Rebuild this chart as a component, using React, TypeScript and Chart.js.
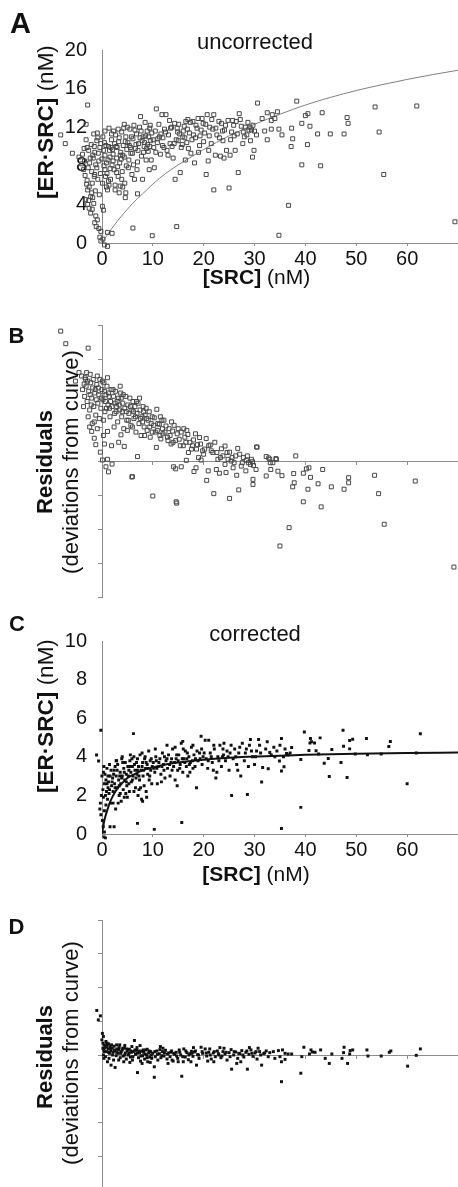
import { useEffect, useRef } from "react";
import { Chart, registerables } from "chart.js";

Chart.register(...registerables);

type Pt = [number, number];

const FONT = "'Liberation Sans', Arial, Helvetica, sans-serif";
const AXIS = "#8c8c8c";
const INK = "#111111";

// ---- tick values ----
const srcTicks = [0, 10, 20, 30, 40, 50, 60];
const uncorrectedTicks = [0, 4, 8, 12, 16, 20];
const correctedTicks = [0, 2, 4, 6, 8, 10];
const residualTicks = [-4, -3, -2, -1, 0, 1, 2, 3, 4];

// ---- panel A: uncorrected [SRC] vs [ER·SRC] ----
const uncorrectedPoints: Pt[] = [
  [-8.1, 11.2], [-7.2, 10.3], [-5.8, 9.3], [-2.8, 14.3], [-3.1, 12.3], [-1.6, 11.3], [-3.1, 10.7], [-0.9, 11.4],
  [-4.5, 8.9], [-4.0, 8.2], [-3.6, 7.6], [-3.3, 7.0], [-2.9, 6.5], [-3.0, 6.1], [-2.5, 5.8], [-2.8, 5.5],
  [-2.2, 4.8], [-3.2, 4.5], [-2.8, 4.0], [-1.8, 4.7], [-2.5, 3.6], [-2.2, 3.1], [-1.2, 2.8], [-1.4, 2.1],
  [-1.1, 1.7], [-0.2, 1.2], [-0.2, 0.2], [0.5, -0.2], [1.1, -0.35], [0.1, 3.8], [0.3, 3.4], [-1.5, 6.9],
  [-2.0, 7.4], [-1.0, 7.8], [-2.4, 8.3], [-1.7, 8.8], [-0.6, 8.5], [-3.8, 9.2], [-2.6, 9.6], [-1.4, 9.4],
  [-0.4, 9.9], [-2.1, 10.2], [-1.0, 10.6], [-0.2, 10.3], [-3.5, 9.8], [-1.9, 6.2], [-0.8, 6.6], [-0.3, 7.2],
  [-1.3, 5.4], [-0.5, 5.0],
  [0.4, 8.0], [0.6, 9.1], [0.8, 10.1], [1.0, 7.2], [1.2, 8.6], [1.4, 11.9], [1.5, 9.6], [1.7, 6.6],
  [1.9, 10.7], [2.0, 8.1], [2.2, 9.2], [2.4, 7.6], [2.5, 10.3], [2.7, 11.2], [2.9, 8.8], [3.0, 9.9],
  [3.2, 6.9], [3.4, 10.9], [3.5, 8.3], [3.7, 9.4], [3.9, 11.5], [4.0, 7.4], [4.2, 10.1], [4.4, 8.9],
  [4.5, 6.2], [4.7, 11.0], [4.9, 9.7], [0.2, 11.0], [0.9, 5.8], [1.6, 8.9], [2.3, 11.6], [3.1, 7.9],
  [3.6, 5.9], [4.1, 9.1], [4.8, 8.0], [0.7, 6.9], [1.8, 9.9], [2.6, 6.0], [3.3, 10.5], [4.3, 11.9],
  [1.1, 1.1], [2.0, 1.0], [1.4, 6.0], [1.1, 5.5], [2.6, 5.5], [3.4, 5.2], [4.1, 5.8], [4.6, 4.7], [4.7, 5.2],
  [5.1, 10.4], [5.3, 8.6], [5.5, 11.8], [5.7, 9.3], [5.9, 7.1], [6.1, 10.8], [6.3, 12.2], [6.4, 6.6],
  [6.6, 9.8], [6.8, 11.3], [7.0, 8.4], [7.2, 10.3], [7.4, 12.0], [7.6, 13.1], [7.8, 9.0], [8.0, 6.6],
  [8.1, 11.0], [8.3, 10.0], [8.5, 12.5], [8.7, 8.6], [8.9, 11.6], [9.1, 9.5], [9.3, 7.6], [9.5, 12.2],
  [9.6, 10.6], [9.8, 11.4], [5.6, 9.9], [6.9, 7.6], [7.5, 10.9], [8.2, 9.4], [9.0, 10.2], [6.1, 1.55],
  [7.0, 5.1], [5.2, 7.8], [9.9, 0.76], [9.4, 11.9], [7.9, 10.6],
  [10.2, 9.9], [10.3, 7.8], [10.5, 11.6], [10.7, 13.9], [10.9, 10.4], [11.2, 12.3], [11.5, 9.2], [11.8, 13.3],
  [12.0, 10.9], [12.3, 11.8], [12.6, 13.3], [12.8, 9.6], [13.1, 11.2], [13.4, 10.3], [13.7, 12.0], [14.0, 8.8],
  [14.3, 12.4], [14.4, 6.6], [14.6, 10.7], [14.7, 1.7], [14.9, 11.5], [15.1, 12.3], [15.4, 7.3], [15.6, 9.9],
  [15.9, 11.0], [16.2, 12.1], [16.4, 8.6], [16.7, 10.4], [16.9, 12.8], [17.2, 11.4], [17.5, 9.3], [17.9, 12.6],
  [18.2, 8.3], [18.4, 10.9], [18.7, 11.9], [18.9, 12.9], [19.2, 10.1], [19.5, 11.7], [19.9, 12.4], [11.0, 10.8],
  [12.2, 9.9], [13.3, 12.7], [15.0, 10.6], [16.0, 11.6], [17.0, 9.8], [18.0, 11.2], [19.0, 9.4], [11.6, 11.3],
  [13.8, 10.0], [16.5, 12.6],
  [20.2, 11.4], [20.5, 7.1], [20.7, 13.3], [20.9, 8.5], [21.2, 12.0], [21.5, 10.3], [21.8, 11.8], [22.0, 13.3],
  [22.0, 5.5], [22.3, 9.1], [22.6, 11.2], [23.0, 12.6], [23.3, 9.0], [23.5, 12.4], [23.8, 10.6], [24.1, 11.7],
  [24.5, 9.6], [24.8, 12.7], [25.0, 5.7], [25.2, 9.1], [25.5, 11.5], [25.9, 12.2], [26.2, 9.6], [26.4, 12.6],
  [26.8, 7.3], [27.0, 13.4], [27.4, 12.1], [27.8, 11.5], [28.2, 12.0], [28.5, 11.2], [28.9, 11.7], [29.2, 10.6],
  [29.4, 11.7], [29.6, 8.9], [29.7, 12.2], [29.9, 9.6], [20.0, 10.5], [21.0, 9.6], [24.0, 8.8], [26.0, 11.1],
  [27.7, 10.3],
  [30.0, 11.6], [30.4, 11.2], [30.6, 14.5], [32.5, 13.5], [33.5, 13.3], [33.3, 12.7], [34.0, 12.9], [34.5, 13.6],
  [32.5, 10.7], [33.3, 11.8], [34.8, 11.8], [35.4, 11.2], [37.3, 11.9], [37.5, 10.8], [37.2, 10.0], [38.3, 14.7],
  [39.3, 12.4], [40.0, 13.2], [40.5, 13.4], [40.9, 12.1], [40.4, 10.2], [39.3, 8.1], [42.4, 11.3], [43.3, 13.5],
  [43.0, 8.0], [44.9, 11.3], [47.6, 11.3], [48.2, 13.0], [48.4, 12.4], [53.7, 14.1], [54.5, 11.5], [55.4, 7.1],
  [61.9, 14.2], [36.7, 3.9], [34.8, 0.8], [69.4, 2.2], [31.5, 12.9], [32.0, 11.6],
  [-1.8, 9.1], [-0.7, 9.3], [0.3, 9.6], [0.5, 10.4], [1.3, 10.0], [1.6, 7.7], [2.1, 9.7], [2.8, 10.0],
  [3.8, 8.7], [4.6, 10.5], [-2.3, 8.8], [-1.2, 8.1], [0.0, 8.7], [0.9, 8.3], [2.2, 8.5], [3.6, 9.1],
  [5.4, 10.1], [6.0, 9.3], [6.5, 11.7], [7.1, 9.6], [7.7, 11.6], [8.4, 10.4], [8.8, 9.8], [9.2, 11.0],
  [9.7, 8.6], [10.1, 10.7], [10.6, 9.4], [11.3, 11.0], [11.9, 10.1], [12.5, 11.5], [13.0, 9.1], [13.5, 11.9],
  [14.2, 10.3], [14.8, 11.9], [15.3, 11.3], [15.8, 10.2], [16.3, 10.9], [16.8, 11.8], [17.4, 12.5], [17.7, 10.7],
  [18.5, 12.2], [19.3, 11.1], [19.7, 12.9], [20.4, 12.3], [21.1, 11.1], [21.6, 12.8], [22.4, 11.9], [23.1, 10.9],
  [23.7, 11.6], [24.3, 12.2], [25.3, 10.7], [25.7, 12.7], [26.6, 11.3], [27.2, 12.8], [28.0, 11.0], [28.7, 12.5],
  [29.1, 12.0], [-3.4, 8.5], [-2.9, 9.9], [-1.5, 10.0], [-0.8, 10.9], [0.6, 11.6], [1.9, 11.3], [3.2, 11.8],
  [4.4, 12.3], [5.0, 12.0], [5.8, 11.0], [6.2, 8.1], [6.7, 10.2], [8.6, 11.1], [9.4, 10.0], [-2.0, 5.2],
  [-1.6, 4.1], [-2.6, 4.4], [-1.9, 3.5], [-0.9, 2.4], [-0.6, 1.5], [-0.4, 0.6], [0.2, 0.4], [-1.4, 7.1],
  [-2.7, 7.8], [0.1, 6.2], [0.6, 7.6], [1.3, 6.4], [2.9, 7.3], [3.9, 6.6],
];

const uncorrectedFit: Pt[] = [
  [0, 0], [1, 0.8], [2, 1.55], [3, 2.25], [4, 2.9], [5, 3.5], [6, 4.1], [8, 5.1], [10, 6.1], [12.5, 7.2],
  [15, 8.1], [17.5, 8.9], [20, 9.7], [25, 11.1], [30, 12.3], [35, 13.35], [40, 14.3], [45, 15.1], [50, 15.8],
  [55, 16.4], [60, 16.95], [65, 17.45], [70, 17.9],
];

// ---- panel B: residuals of uncorrected fit ----
const uncorrectedResiduals: Pt[] = [
  [-8.1, 3.82], [-7.1, 3.45], [-2.7, 3.32], [-4.5, 2.6], [-4.0, 2.5], [-3.2, 2.4], [-3.5, 2.26], [-5.2, 2.35],
  [-3.0, 2.6], [-2.3, 2.55],
  [-3.8, 2.1], [-3.4, 1.9], [-3.1, 2.2], [-2.9, 1.75], [-2.6, 2.05], [-2.4, 1.5], [-2.2, 2.3], [-2.0, 1.85],
  [-1.8, 2.15], [-1.6, 1.6], [-1.4, 2.0], [-1.2, 1.35], [-1.0, 2.25], [-0.8, 1.7], [-0.6, 1.95], [-0.4, 2.4],
  [-0.2, 1.55], [0.0, 2.1], [0.2, 1.8], [0.4, 2.3], [0.6, 1.45], [0.8, 1.95], [1.0, 2.2], [1.2, 1.65],
  [1.4, 1.9], [1.6, 1.3], [1.8, 2.1], [2.0, 1.6], [-3.6, 1.6], [-2.7, 1.3], [-1.5, 1.15], [-0.9, 2.5],
  [0.3, 1.2], [1.1, 2.45], [-2.3, 1.95], [-1.1, 1.8], [0.1, 2.35], [1.5, 1.55], [-0.5, 1.25], [0.7, 1.75],
  [-2.0, 0.87], [-1.5, 0.67], [-1.2, 0.48], [-0.3, 0.26], [0.3, 0.75], [1.1, 0.87], [0.1, 0.03], [1.1, 0.05],
  [0.8, -0.17], [1.3, -0.32], [2.0, -0.09], [-2.4, 1.0], [-1.9, 1.1],
  [2.3, 1.9], [2.5, 1.4], [2.7, 2.05], [2.9, 1.6], [3.1, 1.15], [3.3, 1.85], [3.5, 1.5], [3.7, 2.0],
  [3.9, 1.3], [4.1, 1.7], [4.3, 0.95], [4.5, 1.55], [4.7, 1.9], [4.9, 1.2], [5.1, 1.65], [5.3, 1.4],
  [5.5, 1.85], [5.7, 1.05], [5.9, 1.5], [6.1, 1.75], [6.3, 1.25], [6.5, 1.6], [6.7, 0.85], [6.9, 1.4],
  [7.1, 1.7], [7.3, 1.1], [7.5, 1.5], [7.7, 0.75], [7.9, 1.3], [8.1, 1.6], [8.3, 1.0], [8.5, 1.35],
  [8.7, 1.55], [8.9, 0.9], [9.1, 1.2], [9.3, 1.45], [9.5, 0.7], [9.7, 1.1], [9.9, 1.3], [3.75, 0.77],
  [4.4, 0.43], [7.0, 0.13], [5.9, -0.47], [6.0, -0.46], [3.0, 1.75], [4.0, 1.45], [6.0, 1.0], [8.0, 1.15],
  [5.0, 0.9], [7.4, 1.85], [3.6, 2.2],
  [10.3, 1.27], [10.8, 1.52], [10.0, -1.03], [10.5, 0.85], [11.0, 1.1], [11.3, 1.08], [11.6, 0.65], [11.9, 0.95],
  [12.2, 1.2], [12.6, 1.03], [12.9, 0.7], [13.2, 0.95], [13.6, 0.5], [13.9, 0.88], [14.2, 1.05], [14.5, 0.6],
  [14.1, -0.17], [14.5, -0.23], [14.6, -1.2], [14.7, -1.24], [15.2, 0.64], [15.6, -0.17], [15.6, 0.85], [16.0, 0.45],
  [16.3, 0.7], [16.6, 0.02], [16.9, 0.78], [17.3, 0.55], [17.6, 0.35], [18.0, 0.62], [18.1, -0.31], [18.5, -0.2],
  [18.8, 0.48], [19.2, 0.69], [19.5, 0.03], [19.8, 0.3], [12.0, 0.8], [13.0, 0.6], [15.0, 0.95], [17.0, 0.25],
  [10.7, 0.4], [11.5, 1.3], [16.1, 0.95], [18.4, 0.8],
  [20.5, 0.66], [20.6, -0.57], [20.9, -0.29], [21.0, 0.45], [21.3, 0.47], [21.8, 0.25], [22.0, -0.96], [22.2, 0.55],
  [22.5, -0.25], [23.1, -0.36], [23.5, 0.36], [23.8, 0.15], [24.2, 0.44], [24.2, -0.1], [24.4, -0.34], [24.8, 0.05],
  [25.1, 0.26], [25.1, -1.1], [25.6, 0.1], [26.0, -0.05], [26.5, -0.42], [26.7, 0.37], [26.9, -0.85], [27.1, 0.2],
  [27.4, -0.15], [27.8, 0.1], [28.3, -0.29], [28.4, 0.02], [28.8, -0.05], [29.2, -0.1], [29.6, -0.02], [29.7, -0.54],
  [29.7, -0.69], [29.8, -0.13], [30.3, -0.25], [30.4, 0.41], [30.5, 0.41], [20.0, 0.2], [22.8, 0.05], [25.8, -0.2],
  [32.3, 0.13], [32.8, 0.09], [33.1, -0.05], [33.6, -0.05], [34.3, 0.05], [34.2, 0.07], [32.3, -0.44], [33.2, -0.25],
  [34.6, -0.3], [35.4, -0.43], [38.1, 0.15], [37.7, -0.37], [37.8, -0.64], [37.5, -0.76], [39.6, -0.36], [40.2, -0.23],
  [40.7, -0.2], [41.0, -0.48], [40.5, -0.83], [39.6, -1.2], [42.5, -0.67], [43.4, -0.25], [43.1, -1.35], [45.1, -0.76],
  [47.6, -0.83], [48.5, -0.49], [48.5, -0.64], [53.6, -0.42], [54.4, -0.96], [55.5, -1.86], [61.6, -0.59], [36.8, -1.96],
  [35.0, -2.5], [69.2, -3.12], [33.0, 0.05],
  [-2.8, 2.35], [-2.1, 1.65], [-1.3, 2.1], [-0.7, 2.15], [0.5, 2.05], [0.9, 1.55], [1.7, 1.75], [2.2, 2.1],
  [2.8, 1.45], [3.4, 1.65], [4.2, 1.95], [4.8, 1.45], [5.6, 1.6], [6.2, 1.45], [6.8, 1.75], [7.6, 1.25],
  [8.2, 1.45], [8.8, 1.25], [9.4, 1.0], [9.9, 0.85], [10.2, 1.05], [10.9, 0.9], [11.4, 0.75], [12.4, 0.85],
  [13.4, 0.75], [14.0, 0.55], [14.8, 0.8], [15.4, 0.45], [16.5, 0.55], [17.8, 0.45], [18.6, 0.35], [19.4, 0.5],
  [20.2, 0.35], [21.5, 0.3], [22.6, 0.25], [23.3, 0.1], [24.6, 0.25], [25.4, 0.0], [26.3, 0.15], [27.6, -0.05],
  [28.6, 0.15], [29.4, 0.05], [-3.3, 2.45], [-1.7, 2.4], [-0.1, 1.85], [1.3, 2.0], [2.6, 1.7], [3.8, 1.85],
  [5.2, 1.2], [6.6, 1.3], [8.4, 0.75], [11.8, 1.2], [13.7, 1.15], [16.7, 0.9], [19.0, 0.1], [2.4, 1.0],
  [1.9, 0.45], [-0.9, 0.95], [0.5, 0.5], [3.3, 0.55],
];

// ---- panel C: corrected ----
const correctedPoints: Pt[] = [
  [-0.2, 5.38], [-1.05, 4.09], [-0.65, 3.78], [-0.3, 1.6], [-0.4, 1.3], [-0.2, 1.0], [0.26, 0.38], [0.5, 0.1],
  [0.4, -0.15], [0.7, -0.2], [1.6, 0.38], [2.4, 0.38], [7.0, 0.55], [10.3, 0.24], [15.7, 0.6], [0.1, 0.7],
  [-0.1, 2.0], [0.2, 2.3], [0.3, 1.9], [0.5, 2.6], [0.6, 3.1], [0.8, 1.5], [0.9, 2.2], [1.0, 3.4],
  [1.1, 1.8], [1.3, 2.7], [1.4, 2.1], [1.6, 3.0], [1.7, 1.6], [1.9, 2.5], [0.4, 3.5], [0.0, 3.0],
  [1.2, 2.4], [1.8, 3.3], [0.7, 2.0],
  [2.1, 2.9], [2.2, 2.2], [2.4, 3.3], [2.5, 2.6], [2.7, 1.3], [2.8, 3.0], [3.0, 2.4], [3.1, 3.6],
  [3.3, 2.8], [3.4, 2.0], [3.6, 3.2], [3.7, 2.6], [3.9, 3.9], [4.0, 3.0], [4.2, 2.3], [4.3, 3.4],
  [4.5, 2.8], [4.6, 3.7], [4.8, 3.1], [4.9, 2.5], [5.1, 3.5], [5.2, 3.0], [5.4, 2.2], [5.5, 3.8],
  [5.7, 3.2], [5.8, 2.7], [6.0, 3.5], [6.1, 3.0], [6.2, 5.2], [6.3, 4.0], [6.5, 3.3], [6.6, 2.4],
  [6.8, 3.7], [6.9, 3.1], [7.1, 2.0], [7.2, 3.5], [7.4, 2.8], [7.5, 4.1], [7.7, 3.3], [7.8, 1.8],
  [8.0, 3.7], [8.1, 3.0], [8.3, 2.5], [8.4, 3.9], [8.6, 3.4], [8.7, 2.2], [8.9, 3.6], [9.0, 3.1],
  [9.2, 4.3], [9.3, 2.8], [9.5, 3.8], [9.6, 3.3], [9.8, 2.6], [9.9, 3.5], [2.6, 3.5], [3.2, 1.6],
  [4.1, 3.7], [5.0, 1.9], [5.9, 3.9], [6.7, 2.9], [7.6, 2.4], [8.5, 4.0], [9.4, 3.0], [2.9, 3.8],
  [3.8, 1.7], [4.7, 2.1], [7.0, 3.9], [8.8, 1.9], [3.5, 3.0], [5.3, 3.3],
  [10.1, 3.7], [10.4, 3.2], [10.6, 4.0], [10.9, 2.6], [11.1, 3.5], [11.4, 3.9], [11.6, 3.1], [11.9, 4.2],
  [12.1, 3.6], [12.4, 2.9], [12.6, 3.8], [12.9, 3.4], [13.1, 4.1], [13.4, 3.0], [13.6, 3.7], [13.9, 4.4],
  [14.1, 3.5], [14.4, 2.8], [14.6, 3.9], [14.9, 3.3], [15.1, 4.1], [15.4, 3.6], [15.6, 4.7], [15.9, 3.2],
  [16.1, 3.9], [16.4, 4.3], [16.6, 3.5], [16.9, 3.0], [17.1, 4.0], [17.4, 3.7], [17.6, 4.5], [17.9, 3.4],
  [18.1, 4.1], [18.6, 2.4], [18.9, 3.8], [19.2, 4.2], [19.5, 5.07], [19.7, 3.6], [15.9, 4.8], [10.8, 3.4],
  [12.3, 4.0], [13.8, 3.3], [15.0, 3.8], [16.8, 4.2], [18.4, 3.9], [11.7, 2.7], [14.8, 2.5], [17.3, 3.2],
  [19.9, 4.0],
  [20.3, 4.86], [21.0, 4.86], [20.5, 3.9], [20.8, 3.4], [21.3, 4.2], [21.7, 3.7], [22.1, 4.4], [22.4, 2.9],
  [22.8, 4.0], [23.2, 4.6], [23.5, 3.5], [23.9, 4.1], [24.3, 3.8], [24.6, 4.3], [25.0, 3.3], [25.5, 2.0],
  [25.4, 4.6], [25.8, 3.9], [26.1, 4.4], [26.5, 3.6], [26.9, 4.2], [27.3, 3.0], [27.6, 4.7], [28.0, 3.8],
  [28.6, 2.05], [28.4, 4.4], [28.8, 3.5], [29.2, 4.9], [29.6, 4.0], [30.0, 3.6], [30.4, 4.3], [30.8, 4.9],
  [22.6, 3.2], [24.0, 4.7], [26.7, 3.3], [29.0, 4.6], [21.9, 3.3], [23.7, 4.0],
  [31.0, 4.6], [31.4, 2.69], [31.6, 3.45], [32.5, 4.78], [32.7, 3.38], [33.0, 4.22], [34.0, 4.0], [34.9, 3.78],
  [35.0, 4.6], [35.3, 4.95], [35.3, 3.26], [35.3, 0.29], [35.7, 4.0], [35.8, 3.48], [36.3, 4.17], [37.0, 4.2],
  [37.3, 4.48], [39.1, 3.86], [39.1, 1.38], [39.8, 5.29], [40.7, 4.33], [40.9, 4.72], [41.0, 4.95], [41.2, 4.78],
  [41.8, 4.72], [42.1, 4.31], [42.6, 4.14], [42.9, 4.98], [43.7, 3.67], [44.5, 3.91], [44.7, 2.98], [45.2, 4.38],
  [47.0, 3.7], [47.4, 5.38], [47.5, 4.55], [48.2, 2.93], [48.7, 4.84], [48.7, 4.41], [49.3, 4.91], [49.8, 4.14],
  [52.0, 4.95], [52.2, 4.1], [54.9, 4.14], [56.4, 4.53], [56.7, 4.79], [60.0, 2.6], [61.8, 4.2], [62.6, 5.19],
  [33.8, 4.5], [36.0, 4.4],
  [0.5, 1.2], [0.8, 2.8], [1.2, 3.0], [1.5, 2.3], [2.0, 2.7], [2.3, 3.1], [2.6, 2.4], [3.0, 3.3],
  [3.4, 2.5], [3.9, 2.9], [4.4, 3.2], [4.8, 2.7], [5.3, 2.6], [5.6, 3.5], [6.0, 2.8], [6.4, 3.6],
  [7.0, 3.3], [7.3, 3.0], [7.9, 3.5], [8.2, 3.3], [8.7, 3.7], [9.1, 3.4], [9.7, 3.9], [10.2, 3.4],
  [10.7, 3.8], [11.2, 3.7], [11.8, 3.5], [12.2, 3.3], [12.8, 3.9], [13.3, 3.6], [13.7, 3.9], [14.3, 3.7],
  [14.7, 4.1], [15.3, 3.4], [15.8, 3.9], [16.3, 3.7], [16.7, 3.9], [17.2, 3.6], [17.8, 3.8], [18.3, 3.5],
  [18.7, 4.3], [19.3, 3.9], [19.6, 4.4], [20.1, 4.2], [20.9, 3.8], [21.5, 4.0], [22.0, 4.6], [23.0, 3.8],
  [23.8, 4.4], [24.8, 4.0], [25.2, 4.2], [26.3, 4.0], [27.1, 4.5], [28.2, 4.2], [29.4, 4.3], [30.2, 4.0],
  [31.2, 4.2], [32.2, 4.4], [33.3, 4.1], [34.4, 4.3], [36.6, 4.1], [1.0, 2.6], [2.2, 1.6], [3.6, 2.1],
  [4.4, 1.9], [6.3, 2.2], [7.3, 2.3], [8.0, 1.7], [0.3, 3.2], [1.5, 3.6], [2.8, 3.8], [4.0, 4.0],
  [5.6, 4.1], [7.9, 4.2], [10.5, 4.4], [12.8, 4.6], [14.4, 4.5], [16.0, 4.4], [17.9, 4.6],
];

const correctedFit: Pt[] = [
  [0, 0], [0.25, 0.4], [0.5, 0.75], [1, 1.2], [1.5, 1.6], [2, 1.9], [3, 2.35], [4, 2.65], [5, 2.9], [6, 3.05],
  [8, 3.3], [10, 3.45], [12.5, 3.6], [15, 3.7], [20, 3.85], [25, 3.95], [30, 4.02], [35, 4.06], [40, 4.1],
  [50, 4.16], [60, 4.2], [70, 4.22],
];

// ---- panel D: residuals of corrected fit ----
const correctedResiduals: Pt[] = [
  [-1.0, 1.32], [-0.3, 1.16], [-0.7, 1.04], [0.1, 0.64], [0.0, 0.45], [0.3, 0.55], [0.2, 0.35], [0.5, 0.3],
  [0.4, 0.15], [0.6, 0.22], [0.8, 0.4], [0.9, 0.1], [1.0, 0.28], [1.2, 0.18], [1.3, 0.33], [1.5, 0.05],
  [1.6, 0.25], [1.8, 0.12], [1.9, 0.3], [0.3, 0.0], [0.7, -0.05], [1.1, -0.2], [1.8, -0.3], [2.6, -0.37],
  [1.4, -0.1],
  [2.0, 0.2], [2.2, 0.08], [2.4, 0.26], [2.6, 0.12], [2.8, -0.02], [3.0, 0.18], [3.2, 0.05], [3.4, 0.22],
  [3.6, -0.08], [3.8, 0.1], [4.0, 0.15], [4.2, -0.03], [4.4, 0.2], [4.6, 0.06], [4.8, -0.12], [5.0, 0.12],
  [5.2, 0.0], [5.4, 0.17], [5.6, -0.06], [5.8, 0.08], [6.0, -0.15], [6.2, 0.1], [6.4, 0.43], [6.6, 0.02],
  [6.8, 0.14], [7.0, -0.52], [7.2, -0.08], [7.4, 0.06], [7.6, -0.18], [7.8, 0.11], [8.0, -0.02], [8.2, 0.08],
  [8.4, -0.12], [8.6, 0.15], [8.8, 0.0], [9.0, -0.2], [9.2, 0.06], [9.4, -0.06], [9.6, 0.1], [9.8, -0.1],
  [3.3, -0.15], [5.5, -0.22], [7.9, -0.25], [2.9, 0.3], [4.5, 0.28], [6.9, 0.22], [8.9, 0.17],
  [10.0, 0.05], [10.3, -0.66], [10.3, -0.35], [10.5, -0.05], [10.8, 0.12], [11.0, -0.15], [11.3, 0.04], [11.6, -0.08],
  [11.9, 0.1], [12.2, -0.03], [12.5, 0.14], [12.8, -0.12], [13.1, 0.06], [13.4, -0.05], [13.7, 0.12], [14.0, -0.18],
  [14.3, 0.02], [14.6, 0.08], [14.9, -0.1], [15.2, 0.15], [15.5, 0.0], [15.7, -0.63], [16.1, 0.18], [16.4, -0.06],
  [16.7, 0.07], [17.0, -0.14], [17.3, 0.04], [17.6, 0.11], [17.9, -0.04], [18.2, 0.09], [18.6, -0.3], [18.8, 0.01],
  [19.1, -0.1], [19.5, 0.23], [19.8, 0.05], [12.0, 0.2], [15.0, -0.2], [17.5, -0.2], [13.0, -0.25],
  [20.3, 0.18], [20.6, -0.03], [21.0, 0.08], [21.2, 0.18], [21.5, -0.12], [21.9, 0.06], [22.3, -0.05], [22.7, 0.12],
  [23.0, 0.0], [23.4, -0.08], [23.8, 0.1], [24.2, 0.03], [24.6, -0.15], [25.0, 0.07], [25.5, -0.42], [25.4, 0.16],
  [25.9, 0.0], [26.3, 0.09], [26.7, -0.1], [27.1, 0.04], [27.5, 0.13], [27.9, -0.06], [28.3, 0.08], [28.6, -0.42],
  [28.9, 0.02], [29.3, 0.15], [29.7, -0.04], [30.1, 0.06], [30.5, -0.12], [31.0, 0.1], [31.4, -0.3], [31.8, 0.04],
  [32.3, 0.12], [32.7, -0.05], [24.0, 0.2], [26.5, -0.25], [29.0, 0.22], [22.0, -0.2],
  [33.0, 0.07], [33.7, 0.1], [34.7, 0.13], [35.5, 0.15], [36.0, 0.05], [36.6, 0.03], [37.3, 0.03], [35.0, -0.05],
  [35.3, -0.2], [36.0, -0.13], [39.3, -0.05], [35.3, -0.79], [39.1, -0.54], [39.7, 0.23], [41.1, 0.15], [41.4, 0.09],
  [41.9, 0.08], [40.8, 0.03], [43.0, 0.15], [43.9, -0.1], [44.7, -0.25], [45.2, 0.03], [47.2, -0.1], [47.5, 0.07],
  [47.6, 0.23], [48.3, -0.25], [48.7, 0.03], [48.8, 0.13], [49.3, 0.15], [52.1, 0.15], [52.3, -0.03], [54.9, -0.03],
  [56.5, 0.08], [56.8, 0.12], [60.1, -0.33], [61.8, -0.01], [62.6, 0.18], [34.0, -0.1],
  [0.2, 0.2], [0.5, 0.1], [0.9, 0.25], [1.3, 0.08], [1.7, 0.18], [2.1, 0.0], [2.5, 0.15], [2.9, 0.08],
  [3.3, 0.15], [3.7, 0.05], [4.1, 0.2], [4.5, 0.0], [4.9, 0.18], [5.3, 0.05], [5.7, 0.12], [6.1, -0.05],
  [6.5, 0.15], [6.9, 0.05], [7.3, 0.12], [7.7, -0.03], [8.1, 0.15], [8.5, 0.03], [8.9, -0.08], [9.3, 0.12],
  [9.7, 0.0], [10.4, 0.1], [10.9, 0.02], [11.4, 0.16], [11.8, -0.02], [12.3, 0.06], [12.9, 0.03], [13.5, 0.08],
  [14.1, 0.05], [14.7, -0.03], [15.3, 0.08], [15.9, -0.05], [16.5, 0.12], [17.1, 0.0], [17.7, 0.05], [18.4, 0.12],
  [19.0, 0.0], [19.7, 0.1], [20.5, 0.06], [21.3, 0.0], [22.1, 0.1], [22.9, 0.04], [23.6, -0.03], [24.4, 0.08],
  [25.2, -0.05], [26.0, 0.1], [26.9, 0.05], [27.7, 0.0], [28.5, 0.12], [29.5, 0.05], [30.3, 0.1], [31.2, 0.0],
  [32.0, 0.06], [0.4, -0.1], [1.0, 0.35], [2.3, -0.15], [3.5, 0.3], [4.3, -0.2], [5.9, 0.25], [7.5, 0.28],
  [9.5, -0.22], [11.5, 0.25], [13.8, -0.15], [16.0, -0.2], [18.0, 0.22], [20.8, -0.18], [23.2, 0.22], [27.3, -0.2],
  [30.7, 0.2],
];

// ---- helpers ----
const toXY = (pts: Pt[]) => pts.map(([x, y]) => ({ x, y }));
const tickFont = { family: FONT, size: 20 };

const W = 458;
const X0_PX = 102; // pixel where [SRC] = 0
const X70_PX = 459; // pixel where [SRC] = 70
const X_MAX = 70;
const X_OVERLAY_MIN = -9; // overlay frame also shows points left of the y axis

type Geo = { canvasH: number; top: number; bottom: number; yMin: number; yMax: number };
const geoA: Geo = { canvasH: 300, top: 50, bottom: 243, yMin: 0, yMax: 20 };
const geoB: Geo = { canvasH: 300, top: 25, bottom: 297, yMin: -4, yMax: 4 };
const geoC: Geo = { canvasH: 300, top: 41, bottom: 234, yMin: 0, yMax: 10 };
const geoD: Geo = { canvasH: 290, top: 20, bottom: 290, yMin: -4, yMax: 4 };

function baseOptions(padding: any) {
  return {
    responsive: false,
    animation: false as const,
    events: [] as any[],
    devicePixelRatio: 1,
    layout: { padding, autoPadding: false },
    plugins: { legend: { display: false }, tooltip: { enabled: false }, title: { display: false } },
  };
}

function srcAxis(height: number) {
  return {
    type: "linear",
    min: 0,
    max: X_MAX,
    afterBuildTicks: (s: any) => {
      s.ticks = srcTicks.map((value) => ({ value }));
    },
    afterFit: (s: any) => {
      s.height = height;
    },
    ticks: { font: tickFont, color: INK, padding: 1, autoSkip: false, maxRotation: 0, minRotation: 0 },
    grid: { drawOnChartArea: false, drawTicks: true, tickLength: 3, color: AXIS, lineWidth: 1 },
    border: { display: true, color: AXIS, width: 1 },
  };
}

function concAxis(min: number, max: number, values: number[]) {
  return {
    type: "linear",
    min,
    max,
    afterBuildTicks: (s: any) => {
      s.ticks = values.map((value) => ({ value }));
    },
    afterFit: (s: any) => {
      s.width = X0_PX;
    },
    ticks: { font: tickFont, color: INK, padding: 15 },
    grid: { drawOnChartArea: false, drawTicks: false, color: AXIS },
    border: { display: true, color: AXIS, width: 1 },
  };
}

function residualYAxis() {
  return {
    type: "linear",
    min: -4,
    max: 4,
    afterBuildTicks: (s: any) => {
      s.ticks = residualTicks.map((value) => ({ value }));
    },
    afterFit: (s: any) => {
      s.width = X0_PX;
    },
    ticks: { display: false },
    grid: { drawOnChartArea: false, drawTicks: true, tickLength: 4, color: AXIS, lineWidth: 1 },
    border: { display: true, color: AXIS, width: 1 },
  };
}

function residualXAxis() {
  return {
    type: "linear",
    position: { y: 0 },
    min: 0,
    max: X_MAX,
    afterBuildTicks: (s: any) => {
      s.ticks = srcTicks.map((value) => ({ value }));
    },
    ticks: { display: false },
    grid: { drawOnChartArea: false, drawTicks: true, tickLength: 3, color: AXIS, lineWidth: 1 },
    border: { display: true, color: AXIS, width: 1 },
  };
}

const hollowSquares = {
  pointStyle: "rect",
  pointRadius: 2.8,
  pointBackgroundColor: "rgba(255,255,255,0)",
  pointBorderColor: "#474747",
  pointBorderWidth: 1,
  showLine: false,
};

const solidSquares = {
  pointStyle: "rect",
  pointRadius: 2.1,
  pointBackgroundColor: "#111111",
  pointBorderColor: "#111111",
  pointBorderWidth: 0,
  showLine: false,
};

// frame with axes (and fitted curve, if any)
function axesChart(geo: Geo, kind: "conc" | "resid", ticks: number[], curve: Pt[] | null, curveStyle: any) {
  const datasets = curve
    ? [
        {
          data: toXY(curve),
          showLine: true,
          pointRadius: 0,
          cubicInterpolationMode: "monotone",
          ...curveStyle,
        },
      ]
    : [];
  const padding =
    kind === "conc"
      ? { top: geo.top, left: 0, right: W - X70_PX, bottom: 0 }
      : { top: geo.top, left: 0, right: W - X70_PX, bottom: geo.canvasH - geo.bottom };
  return {
    type: "scatter",
    data: { datasets },
    options: {
      ...baseOptions(padding),
      scales:
        kind === "conc"
          ? { x: srcAxis(geo.canvasH - geo.bottom), y: concAxis(geo.yMin, geo.yMax, ticks) }
          : { x: residualXAxis(), y: residualYAxis() },
    },
  };
}

// points drawn on a transparent overlay whose frame is widened so that
// points left of / below the axes are still drawn by the same scales
function pointsChart(geo: Geo, points: Pt[], style: any, yLow: number) {
  const kx = (X70_PX - X0_PX) / X_MAX;
  const ky = (geo.bottom - geo.top) / (geo.yMax - geo.yMin);
  const left = X0_PX + X_OVERLAY_MIN * kx;
  const bottomPx = geo.bottom + (geo.yMin - yLow) * ky;
  return {
    type: "scatter",
    data: { datasets: [{ data: toXY(points), ...style }] },
    options: {
      ...baseOptions({ top: geo.top, left, right: W - X70_PX, bottom: geo.canvasH - bottomPx }),
      scales: {
        x: { type: "linear", display: false, min: X_OVERLAY_MIN, max: X_MAX },
        y: { type: "linear", display: false, min: yLow, max: geo.yMax },
      },
    },
  };
}

function PanelChart({ top, height, make }: { top: number; height: number; make: () => any }) {
  const ref = useRef<HTMLCanvasElement | null>(null);
  useEffect(() => {
    if (!ref.current) return;
    const chart = new Chart(ref.current, make());
    return () => chart.destroy();
  }, []);
  return (
    <canvas
      ref={ref}
      width={W}
      height={height}
      style={{ position: "absolute", left: 0, top, width: W, height, display: "block" }}
    />
  );
}

// horizontal text positioned by its baseline
function Text({
  x,
  baseline,
  size,
  bold,
  center,
  children,
}: {
  x: number;
  baseline: number;
  size: number;
  bold?: boolean;
  center?: boolean;
  children: any;
}) {
  return (
    <div
      style={{
        position: "absolute",
        left: x,
        top: baseline - 0.8465 * size,
        fontSize: size,
        lineHeight: `${size}px`,
        fontWeight: bold ? 700 : 400,
        whiteSpace: "nowrap",
        transform: center ? "translateX(-50%)" : undefined,
      }}
    >
      {children}
    </div>
  );
}

// vertical text (reads bottom to top) positioned by its centre
function VText({ cx, cy, size, bold, children }: { cx: number; cy: number; size: number; bold?: boolean; children: any }) {
  return (
    <div
      style={{
        position: "absolute",
        left: cx,
        top: cy,
        fontSize: size,
        lineHeight: `${size}px`,
        fontWeight: bold ? 700 : 400,
        whiteSpace: "nowrap",
        transform: "translate(-50%, -50%) rotate(-90deg)",
      }}
    >
      {children}
    </div>
  );
}

const makeAxesA = () =>
  axesChart(geoA, "conc", uncorrectedTicks, uncorrectedFit, { borderColor: "#7f7f7f", borderWidth: 1 });
const makePointsA = () => pointsChart(geoA, uncorrectedPoints, hollowSquares, -1);
const makeAxesB = () => axesChart(geoB, "resid", residualTicks, null, null);
const makePointsB = () => pointsChart(geoB, uncorrectedResiduals, hollowSquares, -4);
const makeAxesC = () =>
  axesChart(geoC, "conc", correctedTicks, correctedFit, { borderColor: "#111111", borderWidth: 2 });
const makePointsC = () => pointsChart(geoC, correctedPoints, solidSquares, -0.6);
const makeAxesD = () => axesChart(geoD, "resid", residualTicks, null, null);
const makePointsD = () => pointsChart(geoD, correctedResiduals, solidSquares, -4);

export default function App() {
  return (
    <div
      style={{
        position: "absolute",
        left: 0,
        top: 0,
        width: W,
        height: 1187,
        overflow: "hidden",
        background: "#ffffff",
        fontFamily: FONT,
        color: INK,
      }}
    >
      <PanelChart top={0} height={geoA.canvasH} make={makeAxesA} />
      <PanelChart top={0} height={geoA.canvasH} make={makePointsA} />
      <PanelChart top={300} height={geoB.canvasH} make={makeAxesB} />
      <PanelChart top={300} height={geoB.canvasH} make={makePointsB} />
      <PanelChart top={600} height={geoC.canvasH} make={makeAxesC} />
      <PanelChart top={600} height={geoC.canvasH} make={makePointsC} />
      <PanelChart top={900} height={geoD.canvasH} make={makeAxesD} />
      <PanelChart top={900} height={geoD.canvasH} make={makePointsD} />

      <Text x={10} baseline={33.3} size={29} bold>A</Text>
      <Text x={8.5} baseline={343.3} size={22} bold>B</Text>
      <Text x={9} baseline={631.7} size={22} bold>C</Text>
      <Text x={8.5} baseline={935} size={22} bold>D</Text>

      <Text x={255} baseline={50} size={22} center>uncorrected</Text>
      <Text x={255} baseline={642} size={22} center>corrected</Text>

      <Text x={256.5} baseline={284} size={21} center>
        <span style={{ fontWeight: 700 }}>[SRC]</span> (nM)
      </Text>
      <Text x={256} baseline={881} size={21} center>
        <span style={{ fontWeight: 700 }}>[SRC]</span> (nM)
      </Text>

      <VText cx={45.8} cy={121.5} size={22.5}>
        <span style={{ fontWeight: 700 }}>[ER·SRC]</span> (nM)
      </VText>
      <VText cx={45.8} cy={716} size={22.5}>
        <span style={{ fontWeight: 700 }}>[ER·SRC]</span> (nM)
      </VText>

      <VText cx={45.4} cy={461.7} size={22} bold>Residuals</VText>
      <VText cx={70.5} cy={461.7} size={22}>(deviations from curve)</VText>
      <VText cx={45.4} cy={1056.7} size={22} bold>Residuals</VText>
      <VText cx={70.5} cy={1052.5} size={22}>(deviations from curve)</VText>
    </div>
  );
}
